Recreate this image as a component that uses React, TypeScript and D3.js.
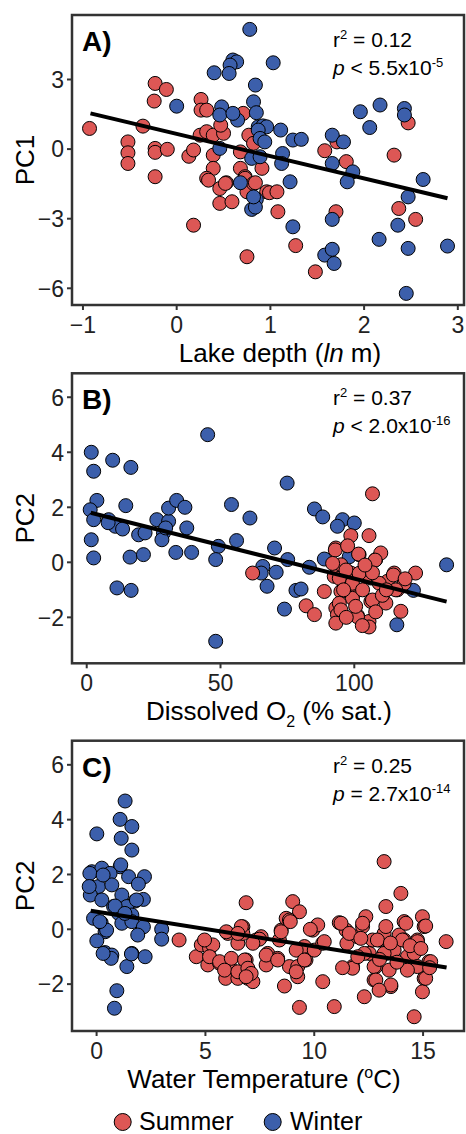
import React from "react";
import * as d3 from "d3";

// ---------- Data ----------
const aSummer: [number, number][] = [
  [-0.93, 0.89], [-0.23, 2.83], [-0.11, 2.57], [-0.24, 2.07], [-0.36, 0.99], [-0.52, 0.31],
  [-0.52, -0.16], [-0.52, -0.62], [-0.23, 0.03], [-0.23, -0.14], [-0.1, -0.01], [-0.23, -1.19],
  [0.13, -0.31], [0.18, -0.04], [0.18, -3.28], [0.26, 2.14], [0.26, 1.68], [0.32, 1.68],
  [0.25, 0.6], [0.32, 0.75], [0.39, 0.6], [0.5, 0.68], [0.47, 1.03], [0.39, -0.26],
  [0.39, -0.83], [0.32, -1.26], [0.34, -1.34], [0.46, -1.7], [0.53, -1.45], [0.46, -2.34],
  [0.59, -2.27], [0.68, -0.12], [0.68, -0.83], [0.73, -1.19], [0.73, -1.26], [0.75, -1.84],
  [0.75, -4.64], [0.77, 0.6], [0.71, 1.54], [0.82, 0.25], [0.82, -1.48], [0.84, -1.45],
  [0.91, -0.83], [0.92, 0.96], [0.96, -1.84], [0.99, -1.88], [1.07, -1.84], [1.08, -2.7],
  [1.27, -4.16], [1.48, -5.29], [1.58, -0.07], [1.71, 0.31], [1.81, -0.54], [1.7, -2.7],
  [2.32, -0.26], [2.37, -2.56], [2.47, 1.13], [2.55, -3.03], [0.52, -1.48],
];
const aWinter: [number, number][] = [
  [0.78, 5.16], [0.6, 3.84], [0.64, 3.76], [0.57, 3.62], [0.4, 3.29], [0.56, 3.26],
  [1.03, 3.72], [0.84, 2.76], [0.0, 1.85], [0.48, 1.82], [0.46, 1.47], [0.65, 1.25],
  [0.6, 1.54], [0.82, 2.04], [0.85, 1.57], [0.87, 0.96], [0.92, 1.0], [0.96, 0.96],
  [0.87, 0.82], [0.89, 0.46], [0.94, 0.31], [1.11, 0.82], [1.24, 0.39], [1.33, 0.42],
  [0.46, 0.03], [0.8, -0.4], [0.89, -0.33], [1.13, -0.19], [1.12, -0.62], [1.21, -1.41],
  [0.68, -1.45], [0.85, -2.17], [0.8, -2.6], [0.84, -2.5], [1.24, -3.35], [1.66, 0.6],
  [1.78, 0.31], [1.66, -0.62], [1.88, -0.98], [1.82, -1.41], [1.66, -3.03], [1.58, -4.57],
  [1.66, -4.32], [1.68, -4.93], [1.96, 1.61], [2.06, 0.93], [2.17, 1.9], [2.43, 1.75],
  [2.43, 1.47], [2.63, -1.31], [2.47, -2.06], [2.36, -3.28], [2.16, -3.89], [2.47, -4.28],
  [2.89, -4.18], [2.45, -6.22], [0.82, -2.06],
];
const aFit: [number, number][] = [[-0.92, 1.54], [2.89, -2.12]];

const bSummer: [number, number][] = [
  [62.0, -0.39], [106.8, 2.49], [98.7, 0.97], [105.5, 0.97], [93.1, 0.52], [101.8, 0.28],
  [108.0, 0.1], [109.9, 0.34], [95.0, -0.09], [98.7, -0.39], [103.7, -0.39], [114.9, -0.39],
  [122.9, -0.39], [92.5, -0.51], [106.2, -0.57], [112.4, -0.69], [116.1, -1.0], [88.8, -1.06],
  [95.0, -1.06], [99.3, -1.24], [106.2, -1.42], [111.8, -1.48], [82.0, -1.58], [85.1, -1.9],
  [93.1, -1.66], [93.7, -1.9], [101.2, -1.94], [105.5, -2.15], [117.4, -1.78], [93.1, -2.21],
  [105.5, -2.35], [92.9, 0.45], [101.6, 0.3], [107.8, 0.08], [114.6, -0.46], [118.6, -0.77],
  [101.2, -1.98], [94.4, -0.58], [99.3, -0.76], [104.3, -0.52], [109.3, -0.76], [99.3, -1.31],
  [106.8, -1.37], [94.4, -1.49], [95.0, -1.73], [91.9, -0.04], [96.9, -0.28], [101.8, -0.4],
  [106.8, -0.38], [115.5, -1.0], [103.1, -1.0], [97.5, 0.6], [104.0, -0.1], [110.5, -1.2],
  [96.0, -1.0], [100.5, -1.6], [108.0, -1.8], [97.0, -2.0], [103.0, -2.3], [112.0, -1.0],
  [119.0, -0.6],
];
const bWinter: [number, number][] = [
  [1.7, 4.0], [2.6, 3.31], [9.7, 3.71], [16.5, 3.45], [45.2, 4.64], [3.8, 2.25], [1.3, 1.91],
  [2.6, 1.55], [8.2, 1.55], [10.7, 1.31], [13.4, 1.21], [14.6, 2.06], [1.7, 0.82], [2.6, 0.16],
  [19.4, 1.0], [21.8, 1.07], [16.2, 0.19], [21.2, 0.28], [11.3, -0.93], [16.6, -1.02],
  [26.2, 1.55], [30.6, 1.49], [30.6, 1.97], [33.6, 2.25], [36.7, 2.0], [28.7, 1.07],
  [28.1, 0.82], [37.4, 1.25], [33.3, 0.36], [39.2, 0.36], [49.2, 0.58], [48.2, 0.1],
  [54.1, 2.1], [61.0, 1.61], [56.0, 0.79], [48.2, -2.87], [74.9, 2.88], [85.1, 1.94],
  [88.2, 1.65], [95.6, 1.55], [100.0, 1.43], [93.7, 1.31], [70.2, 0.52], [75.1, 0.1],
  [65.8, -0.15], [65.2, -0.39], [70.8, -0.36], [67.4, -0.87], [78.2, -1.02], [80.1, -0.97],
  [83.2, -0.18], [88.8, 0.12], [73.9, -1.7], [122.1, -1.02], [115.9, -2.27], [134.5, -0.09],
  [98.1, 0.2], [8.0, 1.44], [29.5, 1.25],
];
const bFit: [number, number][] = [[1.5, 1.8], [134.5, -1.43]];

const cSummer: [number, number][] = [
  [3.79, -0.39], [4.58, -1.0], [4.81, -0.57], [5.19, -0.69], [5.11, -1.3], [5.65, -1.24],
  [5.93, -1.79], [6.11, -1.36], [6.03, -0.15], [6.49, -1.79], [6.49, -0.51], [6.72, 0.09],
  [6.72, -0.15], [6.87, 0.97], [6.87, -1.12], [6.95, -1.79], [7.18, -1.91], [7.33, -0.39],
  [7.56, -0.27], [7.79, -1.3], [7.86, -0.88], [8.32, -1.06], [8.4, -0.39], [8.48, -0.03],
  [8.71, 0.4], [8.63, -2.07], [9.01, 1.01], [9.32, 0.64], [8.86, 0.34], [8.86, -1.36],
  [9.24, -1.36], [9.24, -1.73], [9.32, -2.85], [9.55, -0.63], [9.62, -1.12], [9.93, -0.03],
  [10.16, 0.16], [10.0, -0.76], [10.39, -1.91], [10.39, -0.51], [10.92, -2.82], [11.15, 0.24],
  [11.46, -0.03], [11.5, -0.51], [11.76, -1.36], [11.99, -0.27], [12.3, -2.46], [12.37, 0.46],
  [12.22, 0.1], [12.53, -0.88], [12.68, -0.39], [12.75, -1.85], [12.83, -1.36], [12.98, -0.39],
  [13.21, -0.15], [13.21, 2.47], [13.29, 0.83], [13.29, 0.1], [13.29, -0.88], [13.52, -2.09],
  [13.67, -0.76], [13.9, -0.21], [13.98, 1.31], [14.13, 0.28], [14.13, -0.39], [14.28, -1.0],
  [14.59, -3.19], [14.59, -0.88], [14.74, -0.39], [14.97, 0.46], [15.05, 0.1], [15.05, -1.79],
  [14.97, -2.28], [15.27, -1.18], [16.06, -0.45], [14.74, -1.36], [8.9, 0.28], [9.82, 0.0],
  [8.48, -0.09], [10.46, -0.45], [6.65, 0.1], [5.96, -0.09], [6.49, -0.15], [7.48, -0.36],
  [7.18, -0.51], [5.34, -0.57], [4.96, -0.39], [5.19, -1.0], [5.65, -1.18], [6.19, -1.06],
  [6.8, -1.12], [7.79, -0.94], [8.32, -1.12], [9.17, -0.76], [9.55, -1.12], [5.88, -1.49],
  [6.49, -1.55], [6.95, -1.42], [7.1, -1.61], [6.87, -1.73], [9.17, -1.55], [11.23, 0.22],
  [11.61, -0.15], [12.22, 0.22], [14.21, 0.22], [15.12, 0.12], [12.14, -0.33], [12.9, -0.39],
  [14.05, -0.39], [14.74, -0.45], [12.3, -0.88], [13.21, -0.88], [11.76, -1.42], [12.75, -1.36],
  [13.44, -1.49], [14.28, -1.49], [15.35, -1.18], [15.12, -1.79], [12.83, -1.85], [13.52, -2.03],
  [12.98, -2.22], [13.0, -1.1], [13.8, -1.2], [14.4, -0.6], [12.0, -1.0], [11.3, -1.4],
  [13.5, -0.5], [14.9, -0.7], [15.3, -1.4],
];
const cWinter: [number, number][] = [
  [1.31, 4.68], [1.08, 4.01], [1.62, 3.75], [0.01, 3.48], [1.13, 3.32], [1.62, 2.89],
  [-0.22, 2.1], [0.24, 2.23], [1.08, 2.28], [0.62, 2.04], [1.47, 1.92], [2.2, 1.92],
  [1.92, 1.65], [-0.29, 1.56], [0.09, 1.56], [0.7, 1.62], [-0.29, 1.25], [0.24, 1.07],
  [1.16, 1.25], [1.77, 1.03], [2.15, 1.09], [0.78, 0.83], [1.39, 0.83], [-0.14, 0.4],
  [0.21, 0.24], [1.01, 0.58], [1.62, 0.52], [1.16, 0.22], [1.62, 0.28], [0.39, -0.09],
  [2.15, 0.09], [2.99, 0.0], [2.99, -0.36], [1.89, -0.21], [0.01, -0.42], [0.39, -0.85],
  [0.7, -0.94], [0.67, -1.06], [1.62, -0.88], [2.23, -1.0], [1.39, -1.36], [0.93, -2.24],
  [0.82, -2.88], [-0.31, 2.04], [-0.34, 1.56], [0.3, 1.98], [1.11, 2.35], [0.85, 0.85],
  [0.46, -0.03], [0.15, 0.28], [1.6, -0.9], [1.83, 1.07], [0.3, -0.88], [1.3, 0.58],
];
const cFit: [number, number][] = [[-0.27, 0.68], [16.08, -1.39]];

const aXTicks = [-1, 0, 1, 2, 3];
const aYTicks = [-6, -3, 0, 3];
const bXTicks = [0, 50, 100];
const bYTicks = [-2, 0, 2, 4, 6];
const cXTicks = [0, 5, 10, 15];
const cYTicks = [-2, 0, 2, 4, 6];

const legendLabels = ["Summer", "Winter"];

// ---------- Styles ----------
const RED = "#DD5755";
const BLUE = "#3C5FAB";
const FONT = "'Liberation Sans', Arial, Helvetica, sans-serif";
const FRAME = "#333333";
const LEFT = 72;
const RIGHT = 464;

type PanelProps = {
  top: number;
  bottom: number;
  xDomain: [number, number];
  yDomain: [number, number];
  xTicks: number[];
  yTicks: number[];
  summer: [number, number][];
  winter: [number, number][];
  fit: [number, number][];
  summerFirst: boolean;
  letter: string;
  yLabel: string;
  xTitle: React.ReactNode;
  xTitleX: number;
  r2: string;
  pRel: string;
  pVal: string;
  pExp: string;
};

function Panel(p: PanelProps) {
  const x = d3.scaleLinear().domain(p.xDomain).range([LEFT, RIGHT]);
  const y = d3.scaleLinear().domain(p.yDomain).range([p.bottom, p.top]);
  const fmt = d3.format("");
  const line = d3
    .line<[number, number]>()
    .x((d) => x(d[0]))
    .y((d) => y(d[1]));
  const dots = (data: [number, number][], fill: string, key: string) =>
    data.map((d, i) => (
      <circle key={key + i} cx={x(d[0])} cy={y(d[1])} r={7} fill={fill} stroke="#000" strokeWidth={1} />
    ));
  const midY = (p.top + p.bottom) / 2;
  return (
    <g>
      {p.summerFirst ? dots(p.summer, RED, "s") : dots(p.winter, BLUE, "w")}
      {p.summerFirst ? dots(p.winter, BLUE, "w") : dots(p.summer, RED, "s")}
      <path d={line(p.fit) || ""} stroke="#000" strokeWidth={4} fill="none" />
      <rect x={LEFT} y={p.top} width={RIGHT - LEFT} height={p.bottom - p.top} fill="none" stroke={FRAME} strokeWidth={2.5} />
      {p.yTicks.map((t) => (
        <g key={"yt" + t}>
          <line x1={LEFT - 5} x2={LEFT} y1={y(t)} y2={y(t)} stroke={FRAME} strokeWidth={2} />
          <text x={LEFT - 8} y={y(t)} dy="0.36em" textAnchor="end" fontSize={23} fill="#222" fontFamily={FONT}>
            {fmt(t)}
          </text>
        </g>
      ))}
      {p.xTicks.map((t) => (
        <g key={"xt" + t}>
          <line x1={x(t)} x2={x(t)} y1={p.bottom} y2={p.bottom + 5} stroke={FRAME} strokeWidth={2} />
          <text x={x(t)} y={p.bottom + 28} textAnchor="middle" fontSize={23} fill="#222" fontFamily={FONT}>
            {fmt(t)}
          </text>
        </g>
      ))}
      <text x={82} y={p.top + 36} fontSize={28} fontWeight="bold" fontFamily={FONT} fill="#000">
        {p.letter}
      </text>
      <text x={333} y={p.top + 32} fontSize={21} fontFamily={FONT} fill="#000">
        r<tspan fontSize={13} dy={-8}>2</tspan>
        <tspan dy={8}> = {p.r2}</tspan>
      </text>
      <text x={333} y={p.top + 60} fontSize={21} fontFamily={FONT} fill="#000">
        <tspan fontStyle="italic">p</tspan>
        <tspan>{" " + p.pRel + " " + p.pVal}</tspan>
        <tspan fontSize={13} dy={-8}>{p.pExp}</tspan>
      </text>
      <text
        transform={`translate(25,${midY}) rotate(-90)`}
        textAnchor="middle"
        dy="0.36em"
        fontSize={26}
        fontFamily={FONT}
        fill="#000"
      >
        {p.yLabel}
      </text>
      <text x={p.xTitleX} y={p.bottom + 57} textAnchor="middle" fontSize={26} fontFamily={FONT} fill="#000">
        {p.xTitle}
      </text>
    </g>
  );
}

export default function App() {
  return (
    <svg width={466} height={1134} style={{ position: "absolute", left: 0, top: 0, background: "#fff" }}>
      <rect width={466} height={1134} fill="#fff" />
      <Panel
        top={15}
        bottom={305}
        xDomain={[-1.117, 3.066]}
        yDomain={[-6.72, 5.78]}
        xTicks={aXTicks}
        yTicks={aYTicks}
        summer={aSummer}
        winter={aWinter}
        fit={aFit}
        summerFirst={true}
        letter="A)"
        yLabel="PC1"
        xTitle={
          <>
            Lake depth (<tspan fontStyle="italic">ln</tspan> m)
          </>
        }
        xTitleX={280}
        r2="0.12"
        pRel="<"
        pVal="5.5x10"
        pExp="-5"
      />
      <Panel
        top={373.3}
        bottom={663.3}
        xDomain={[-5.5, 141]}
        yDomain={[-3.67, 6.87]}
        xTicks={bXTicks}
        yTicks={bYTicks}
        summer={bSummer}
        winter={bWinter}
        fit={bFit}
        summerFirst={false}
        letter="B)"
        yLabel="PC2"
        xTitle={
          <>
            Dissolved O<tspan fontSize={16} dy={7}>2</tspan>
            <tspan dy={-7}> (% sat.)</tspan>
          </>
        }
        xTitleX={269}
        r2="0.37"
        pRel="<"
        pVal="2.0x10"
        pExp="-16"
      />
      <Panel
        top={740.7}
        bottom={1031}
        xDomain={[-1.13, 16.88]}
        yDomain={[-3.71, 6.88]}
        xTicks={cXTicks}
        yTicks={cYTicks}
        summer={cSummer}
        winter={cWinter}
        fit={cFit}
        summerFirst={false}
        letter="C)"
        yLabel="PC2"
        xTitle={
          <>
            Water Temperature (<tspan fontSize={16} dy={-10}>o</tspan>
            <tspan dy={10}>C)</tspan>
          </>
        }
        xTitleX={264}
        r2="0.25"
        pRel="="
        pVal="2.7x10"
        pExp="-14"
      />
      <g fontFamily={FONT} fontSize={25}>
        <circle cx={122.7} cy={1122} r={8.5} fill={RED} stroke="#000" strokeWidth={1} />
        <text x={139} y={1130}>{legendLabels[0]}</text>
        <circle cx={272.7} cy={1122} r={8.5} fill={BLUE} stroke="#000" strokeWidth={1} />
        <text x={290} y={1130}>{legendLabels[1]}</text>
      </g>
    </svg>
  );
}
